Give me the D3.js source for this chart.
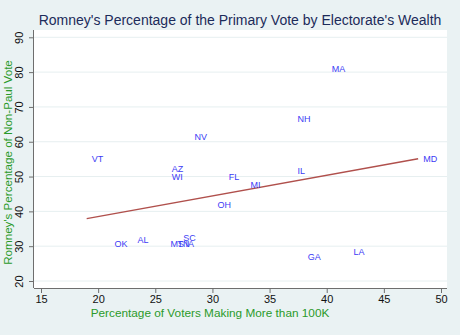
<!DOCTYPE html>
<html><head><meta charset="utf-8">
<script src="https://cdn.jsdelivr.net/npm/d3@7"></script>
<style>
html,body{margin:0;padding:0;background:#eaf2f3;}
svg{display:block;font-family:"Liberation Sans",Arial,Helvetica,sans-serif;}
</style></head>
<body>
<svg id="chart" width="460" height="335"></svg>
<script>
const states = ["MA","NH","MD","IL","MI","GA","LA","NV","VT","AZ","WI","FL","OH","OK","AL","SC","MS","TN","IA"];
const pctRich = [40,37,48,37,32.9,37.9,41.9,28,19,26,26,31,30,21,23,27,25.9,26.5,27.2];
const romneyPct = [80.8,66.5,55,51.6,47.6,27,28.4,61.3,55.1,52.2,50,49.8,41.8,30.6,31.8,32.3,30.6,30.6,30.6];
const xTicks = [15,20,25,30,35,40,45,50];
const yTicks = [20,30,40,50,60,70,80,90];
const title = "Romney's Percentage of the Primary Vote by Electorate's Wealth";
const xTitle = "Percentage of Voters Making More than 100K";
const yTitle = "Romney's Percentage of Non-Paul Vote";

const svg = d3.select("#chart");
const W = 460, H = 335;
svg.append("rect").attr("width",W).attr("height",H).attr("fill","#eaf2f3");

const plot = {left:34, right:447, top:30, bottom:288};
const x = d3.scaleLinear().domain([15,50]).range([41,441]);
const y = d3.scaleLinear().domain([20,90]).range([281,37.3]);

svg.append("rect").attr("x",plot.left).attr("y",plot.top)
  .attr("width",plot.right-plot.left).attr("height",plot.bottom-plot.top).attr("fill","#ffffff");

// gridlines
svg.append("g").selectAll("line").data(yTicks).join("line")
  .attr("x1",plot.left).attr("x2",plot.right)
  .attr("y1",d=>y(d)).attr("y2",d=>y(d))
  .attr("stroke","#e6eff0").attr("stroke-width",1);

// axes
const xAxis = d3.axisBottom(x).tickValues(xTicks).tickSize(5).tickPadding(3).tickFormat(d3.format("d"));
const gx = svg.append("g").attr("transform",`translate(0,${plot.bottom})`).call(xAxis);
gx.select(".domain").attr("d",`M${plot.left},0.5H${plot.right}`).attr("stroke","#6e6e6e");
gx.selectAll(".tick line").attr("stroke","#6e6e6e");
gx.selectAll(".tick text").attr("font-size",11).attr("fill","#111").attr("dy","0.65em");

const yAxis = d3.axisLeft(y).tickValues(yTicks).tickSize(5).tickFormat(d3.format("d"));
const gy = svg.append("g").attr("transform",`translate(${plot.left},0)`).call(yAxis);
gy.select(".domain").attr("d",`M-0.5,${plot.top}V${plot.bottom}`).attr("stroke","#6e6e6e");
gy.selectAll(".tick line").attr("stroke","#6e6e6e");
gy.selectAll(".tick text").attr("font-size",11).attr("fill","#111")
  .attr("x",null).attr("dy",null)
  .attr("text-anchor","middle").attr("dominant-baseline","central")
  .attr("transform","translate(-15,0) rotate(-90)");
gx.attr("font-family",null); gy.attr("font-family",null);

// linear fit
const data = states.map((s,i)=>({s, x:pctRich[i], y:romneyPct[i]}));
const mx = d3.mean(data,d=>d.x), my = d3.mean(data,d=>d.y);
const sxy = d3.sum(data,d=>(d.x-mx)*(d.y-my)), sxx = d3.sum(data,d=>(d.x-mx)**2);
const b = sxy/sxx, a = my - b*mx;
const [xmin,xmax] = d3.extent(data,d=>d.x);
svg.append("line")
  .attr("x1",x(xmin)).attr("y1",y(a+b*xmin))
  .attr("x2",x(xmax)).attr("y2",y(a+b*xmax))
  .attr("stroke","#b0504c").attr("stroke-width",1.4);

// labels
svg.append("g").selectAll("text").data(data).join("text")
  .attr("x",d=>x(d.x)+5).attr("y",d=>y(d.y))
  .attr("dominant-baseline","central")
  .attr("font-size",9).attr("fill","#3c3cf5")
  .text(d=>d.s);

// titles
svg.append("text").attr("x",240).attr("y",24.5).attr("text-anchor","middle")
  .attr("font-size",14).attr("fill","#1c2b5a").text(title);
svg.append("text").attr("x",210).attr("y",313).attr("text-anchor","middle")
  .attr("dominant-baseline","central")
  .attr("font-size",11.8).attr("fill","#2a9a2a").text(xTitle);
svg.append("text").attr("transform","translate(7,162.5) rotate(-90)")
  .attr("text-anchor","middle").attr("dominant-baseline","central")
  .attr("font-size",11.6).attr("fill","#2a9a2a").text(yTitle);
</script>
</body></html>
